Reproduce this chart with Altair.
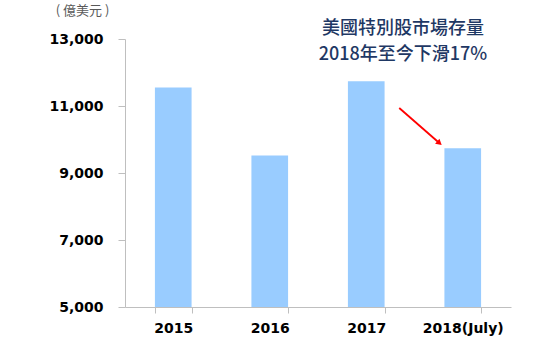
import altair as alt
import pandas as pd

years = ["2015", "2016", "2017", "2018(July)"]
values = [11550, 9520, 11740, 9740]
baseline = 5000

arrow_from = ["2017"]
arrow_to = ["2018(July)"]
arrow_y_from = [10940]
arrow_y_to = [9910]

title_lines = ["美國特別股市場存量", "2018年至今下滑17%"]
unit_label = "( 億美元 )"
y_ticks = [5000, 7000, 9000, 11000, 13000]

df = pd.DataFrame({"year": years, "value": values})
arrow_df = pd.DataFrame({"x": arrow_from, "x2": arrow_to, "y": arrow_y_from, "y2": arrow_y_to})

x_scale = alt.Scale(domain=years, paddingInner=0.62, paddingOuter=0.31)
y_scale = alt.Scale(domain=[5000, 13000], nice=False, zero=False)

bars = alt.Chart(df).mark_bar(color="#99CCFF").encode(
    x=alt.X("year:N", scale=x_scale, sort=years,
            axis=alt.Axis(title=None, labelAngle=0, tickBand="extent",
                          domainColor="#BFBFBF", tickColor="#BFBFBF", tickSize=6,
                          labelFont="DejaVu Sans", labelFontWeight="bold", labelFontSize=14,
                          labelColor="#000000", labelPadding=8)),
    y=alt.Y("value:Q", scale=y_scale,
            axis=alt.Axis(title=unit_label, values=y_ticks, format=",d", grid=False,
                          domainColor="#BFBFBF", tickColor="#BFBFBF", tickSize=7,
                          labelFont="DejaVu Sans", labelFontWeight="bold", labelFontSize=14,
                          labelColor="#000000", labelPadding=15,
                          titleAngle=0, titleX=-43, titleY=-29, titleAlign="center",
                          titleBaseline="middle", titleFont="Noto Sans CJK TC",
                          titleFontSize=13, titleFontWeight="normal", titleColor="#595959")),
    y2=alt.datum(baseline),
)

arrow_line = alt.Chart(arrow_df).mark_rule(color="#FF0000", strokeWidth=1.8, xOffset=33, x2Offset=-24).encode(
    x=alt.X("x:N", scale=x_scale, sort=years),
    x2="x2:N",
    y=alt.Y("y:Q", scale=y_scale),
    y2="y2:Q",
)

arrow_head = alt.Chart(arrow_df).mark_point(shape="triangle", filled=True, color="#FF0000",
                                             size=45, angle=131, xOffset=-24, opacity=1).encode(
    x=alt.X("x2:N", scale=x_scale, sort=years),
    y=alt.Y("y2:Q", scale=y_scale),
)

chart = alt.layer(bars, arrow_line, arrow_head).properties(
    width=386, height=268,
    autosize=alt.AutoSizeParams(type="none"),
    padding={"left": 125, "top": 39, "right": 43, "bottom": 41},
    title=alt.TitleParams(text=title_lines, anchor="middle", dx=85, dy=64,
                          font="Noto Sans CJK TC", fontSize=18, fontWeight=500,
                          color="#1F3864", lineHeight=26),
).configure_view(stroke=None)

chart.save("out.html", embed_options={"renderer": "svg", "actions": False})
